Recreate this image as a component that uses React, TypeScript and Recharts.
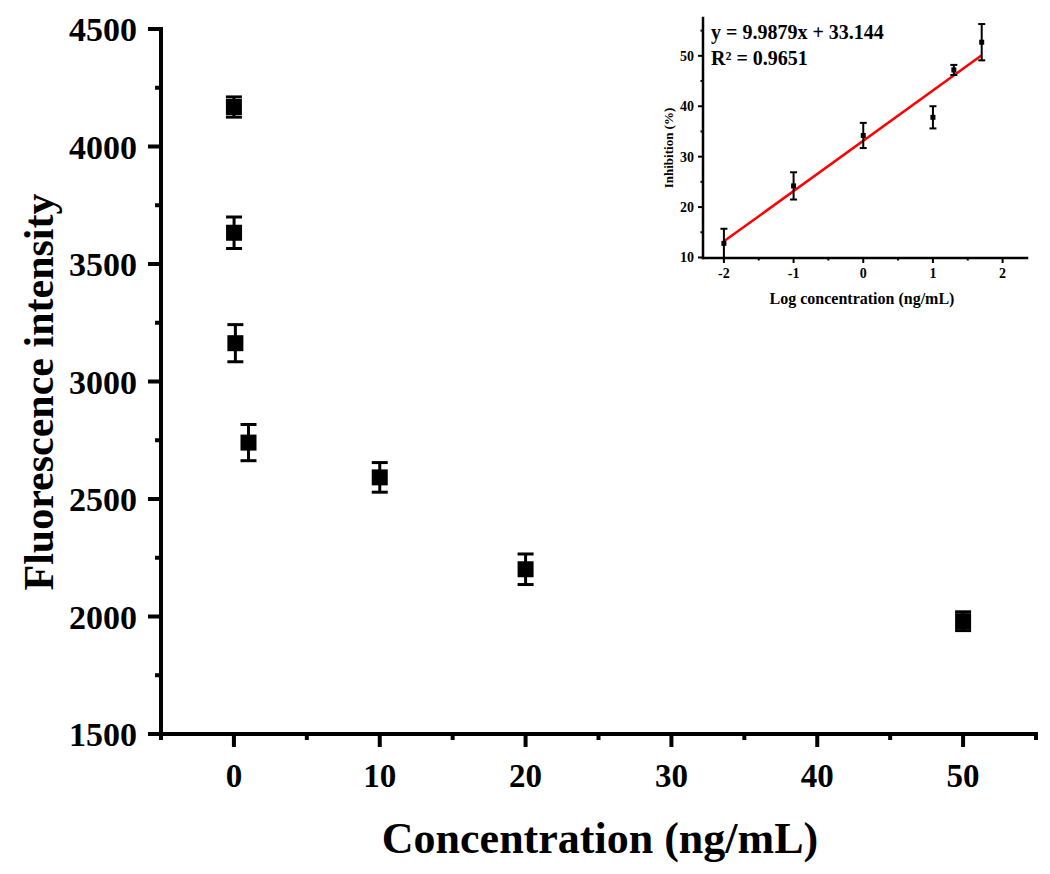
import { ScatterChart, ComposedChart, Scatter, Line, XAxis, YAxis, ErrorBar } from "recharts";

const FONT = "'Times New Roman', 'Liberation Serif', serif";

// main plot: fluorescence vs concentration
const concentration = [0, 0.01, 0.1, 1, 10, 20, 50];
const fluorescence = [4168, 3633, 3163, 2740, 2592, 2201, 1980];
const fluorescenceErr = [43, 67, 79, 77, 63, 65, 40];
const mainXTicks = [-5, 0, 5, 10, 15, 20, 25, 30, 35, 40, 45, 50, 55];
const mainYTicks = [1500, 1750, 2000, 2250, 2500, 2750, 3000, 3250, 3500, 3750, 4000, 4250, 4500];

// inset: inhibition vs log concentration
const logConc = [-2, -1, 0, 1, 1.3, 1.7];
const inhibition = [12.8, 24.2, 34.2, 37.8, 47.2, 52.7];
const inhibitionErr = [2.9, 2.7, 2.5, 2.2, 1.0, 3.6];
const fitX = [-2, 1.7];
const fitY = [13.2, 50.1];
const insetXTicks = [-2, -1.5, -1, -0.5, 0, 0.5, 1, 1.5, 2];
const insetYTicks = [10, 15, 20, 25, 30, 35, 40, 45, 50, 55];

const mainData = concentration.map((x, i) => ({ x, y: fluorescence[i], err: fluorescenceErr[i] }));
const insetData = logConc.map((x, i) => ({ x, y: inhibition[i], err: inhibitionErr[i] }));
const fitData = fitX.map((x, i) => ({ x, y: fitY[i] }));

const square = (side: number) => (p: any) =>
  <rect x={p.cx - side / 2} y={p.cy - side / 2} width={side} height={side} fill="#000" />;

function MainXTick({ x, y, payload }: any) {
  const major = payload.value % 10 === 0;
  return (
    <g>
      <line x1={x} x2={x} y1={y} y2={y + (major ? 13 : 6)} stroke="#000" strokeWidth={4} />
      {major && (
        <text x={x} y={y + 53} textAnchor="middle" fontFamily={FONT} fontWeight="bold" fontSize={33} fill="#000">
          {payload.value}
        </text>
      )}
    </g>
  );
}

function MainYTick({ x, y, payload }: any) {
  const major = payload.value % 500 === 0;
  return (
    <g>
      <line x1={x - (major ? 13 : 6)} x2={x} y1={y} y2={y} stroke="#000" strokeWidth={4} />
      {major && (
        <text x={x - 24} y={y + 12} textAnchor="end" fontFamily={FONT} fontWeight="bold" fontSize={34} fill="#000">
          {payload.value}
        </text>
      )}
    </g>
  );
}

function InsetXTick({ x, y, payload }: any) {
  const major = Number.isInteger(payload.value);
  return (
    <g>
      <line x1={x} x2={x} y1={y} y2={y + (major ? 5 : 2.5)} stroke="#000" strokeWidth={2} />
      {major && (
        <text x={x} y={y + 20} textAnchor="middle" fontFamily={FONT} fontWeight="bold" fontSize={14} fill="#000">
          {payload.value}
        </text>
      )}
    </g>
  );
}

function InsetYTick({ x, y, payload }: any) {
  const major = payload.value % 10 === 0;
  return (
    <g>
      <line x1={x - (major ? 5 : 2.5)} x2={x} y1={y} y2={y} stroke="#000" strokeWidth={2} />
      {major && (
        <text x={x - 9} y={y + 5} textAnchor="end" fontFamily={FONT} fontWeight="bold" fontSize={14} fill="#000">
          {payload.value}
        </text>
      )}
    </g>
  );
}

export default function App() {
  return (
    <div style={{ position: "absolute", left: 0, top: 0, width: 1050, height: 874, background: "#fff" }}>
      <div style={{ position: "absolute", left: 0, top: 0 }}>
        <ScatterChart width={1050} height={874} margin={{ top: 29, right: 14, bottom: 40, left: 41 }}>
          <XAxis
            dataKey="x"
            type="number"
            domain={[-5, 55]}
            ticks={mainXTicks}
            interval={0}
            height={100}
            tickSize={0}
            tickMargin={0}
            tickLine={false}
            tick={<MainXTick />}
            axisLine={{ stroke: "#000", strokeWidth: 4, strokeLinecap: "square" }}
          />
          <YAxis
            dataKey="y"
            type="number"
            domain={[1500, 4500]}
            ticks={mainYTicks}
            interval={0}
            width={120}
            tickSize={0}
            tickMargin={0}
            tickLine={false}
            tick={<MainYTick />}
            axisLine={{ stroke: "#000", strokeWidth: 4, strokeLinecap: "square" }}
          />
          <Scatter data={mainData} fill="#000" shape={square(16)} isAnimationActive={false}>
            <ErrorBar dataKey="err" direction="y" width={8} strokeWidth={3} stroke="#000" isAnimationActive={false} />
          </Scatter>
        </ScatterChart>
      </div>

      <div style={{ position: "absolute", left: 600, top: 0 }}>
        <ComposedChart width={450} height={330} margin={{ top: 18, right: 23, bottom: 42, left: 63 }}>
          <XAxis
            dataKey="x"
            type="number"
            domain={[-2.3, 2.35]}
            ticks={insetXTicks}
            interval={0}
            height={30}
            tickSize={0}
            tickMargin={0}
            tickLine={false}
            tick={<InsetXTick />}
            axisLine={{ stroke: "#000", strokeWidth: 2.5, strokeLinecap: "square" }}
          />
          <YAxis
            dataKey="y"
            type="number"
            domain={[10, 57.5]}
            ticks={insetYTicks}
            interval={0}
            width={40}
            tickSize={0}
            tickMargin={0}
            tickLine={false}
            tick={<InsetYTick />}
            axisLine={{ stroke: "#000", strokeWidth: 2.5, strokeLinecap: "square" }}
          />
          <Line data={fitData} dataKey="y" type="linear" stroke="#ff0000" strokeWidth={2.5} dot={false} isAnimationActive={false} />
          <Scatter data={insetData} fill="#000" shape={square(5)} isAnimationActive={false}>
            <ErrorBar dataKey="err" direction="y" width={3.5} strokeWidth={2} stroke="#000" isAnimationActive={false} />
          </Scatter>
        </ComposedChart>
      </div>

      <svg width={1050} height={874} style={{ position: "absolute", left: 0, top: 0, pointerEvents: "none" }}>
        <g fontFamily={FONT} fontWeight="bold" fill="#000">
          <text x={600} y={853} textAnchor="middle" fontSize={44}>
            Concentration (ng/mL)
          </text>
          <text transform="translate(53,392) rotate(-90)" textAnchor="middle" fontSize={42}>
            Fluorescence intensity
          </text>
          <text x={711} y={39} fontSize={20}>
            y = 9.9879x + 33.144
          </text>
          <text x={711} y={65} fontSize={20}>
            R² = 0.9651
          </text>
          <text transform="translate(673,148) rotate(-90)" textAnchor="middle" fontSize={13}>
            Inhibition (%)
          </text>
          <text x={862} y={304} textAnchor="middle" fontSize={16}>
            Log concentration (ng/mL)
          </text>
        </g>
      </svg>
    </div>
  );
}
